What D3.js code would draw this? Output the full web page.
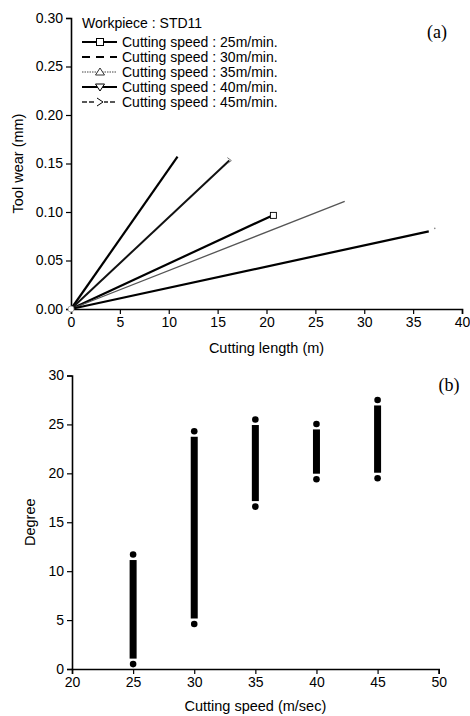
<!DOCTYPE html>
<html>
<head>
<meta charset="utf-8">
<script src="https://cdn.jsdelivr.net/npm/d3@7"></script>
<style>
  body { margin: 0; background: #fff; }
  svg { display: block; }
  text { font-family: "Liberation Sans", Arial, sans-serif; fill: #000; }
</style>
</head>
<body>
<div id="chart"></div>
<script>
// (a) tool wear vs cutting length, one straight run per cutting speed
const speedNames = ["Cutting speed : 25m/min.", "Cutting speed : 30m/min.", "Cutting speed : 35m/min.",
                    "Cutting speed : 40m/min.", "Cutting speed : 45m/min."]
const wearLength = [[0, 20.5], [0, 10.9], [0, 28.0], [0, 36.6], [0, 16.2]]
const wearValue = [[0, 0.096], [0, 0.157], [0, 0.111], [0, 0.080], [0, 0.153]]
const lengthTicks = [0, 5, 10, 15, 20, 25, 30, 35, 40]
const wearTicks = [0.00, 0.05, 0.10, 0.15, 0.20, 0.25, 0.30]

// (b) degree range measured at each cutting speed
const cutSpeeds = [25, 30, 35, 40, 45]
const degreeMin = [0.5, 4.6, 16.6, 19.4, 19.5]
const degreeMax = [11.7, 24.3, 25.5, 25.05, 27.5]
const speedTicks = [20, 25, 30, 35, 40, 45, 50]
const degreeTicks = [0, 5, 10, 15, 20, 25, 30]

let width = 470, height = 716

let svg = d3.select('#chart')
    .append('svg')
    .attr("width", width)
    .attr("height", height)

// little helper for an axis with outward major + minor ticks
function drawAxis(g, axisFn, scale, ticks, minor, fmt) {
    g.call(axisFn(scale).tickValues(minor).tickSize(3).tickFormat(""))
    g.call(axisFn(scale).tickValues(ticks).tickSize(5).tickPadding(3).tickFormat(fmt))
    g.selectAll(".domain").attr("stroke-width", 1.6)
    g.selectAll("line").attr("stroke-width", 1.2)
    g.selectAll("text").style("font-size", "14px").style("font-family", '"Liberation Sans", Arial, sans-serif')
}

// ---------- panel (a) ----------
let xA = d3.scaleLinear().domain([0, 40]).range([71, 462])
let yA = d3.scaleLinear().domain([0, 0.30]).range([309, 18])

let gA = svg.append("g")

drawAxis(gA.append("g").attr("transform", "translate(0," + yA(0) + ")"), d3.axisBottom, xA,
    lengthTicks, d3.range(2.5, 40, 5), d3.format("d"))
drawAxis(gA.append("g").attr("transform", "translate(" + xA(0) + ",0)"), d3.axisLeft, yA,
    wearTicks, d3.range(0.025, 0.30, 0.05), d3.format(".2f"))

const lineStyle = [
    { w: 2.2, c: "#000" },
    { w: 2.2, c: "#000" },
    { w: 1.3, c: "#555" },
    { w: 2.2, c: "#000" },
    { w: 2.0, c: "#111" }
]

let line = d3.line().x(d => xA(d[0])).y(d => yA(d[1]))

speedNames.forEach((name, i) => {
    let pts = wearLength[i].map((l, j) => [l, wearValue[i][j]])
    gA.append("path")
        .datum(pts)
        .attr("d", line)
        .attr("fill", "none")
        .attr("stroke", lineStyle[i].c)
        .attr("stroke-width", lineStyle[i].w)
})

// end markers that are visible on the plot
let last = i => [xA(wearLength[i][1]), yA(wearValue[i][1])]
let p0 = last(0)
gA.append("rect").attr("x", p0[0] - 1).attr("y", p0[1] - 3.5).attr("width", 6).attr("height", 6)
    .attr("fill", "#fff").attr("stroke", "#000").attr("stroke-width", 0.9)
let p4 = last(4)
gA.append("path").attr("d", `M${p4[0] - 2},${p4[1] - 3}L${p4[0] + 2},${p4[1]}L${p4[0] - 2},${p4[1] + 3}`)
    .attr("fill", "none").attr("stroke", "#777").attr("stroke-width", 1)
let p3 = last(3)
gA.append("circle").attr("cx", p3[0] + 6).attr("cy", p3[1] - 3).attr("r", 0.8).attr("fill", "#888")
// hollow marker cluster at origin
gA.append("circle").attr("cx", xA(0)).attr("cy", yA(0)).attr("r", 3)
    .attr("fill", "#fff").attr("stroke", "#999").attr("stroke-width", 0.8)

// legend
let legend = gA.append("g").attr("transform", "translate(82,0)")
legend.append("text").attr("x", 0).attr("y", 28).style("font-size", "14px").text("Workpiece : STD11")

const legendLine = [
    { w: 2, dash: null, c: "#000" },
    { w: 2, dash: "8,6", c: "#000" },
    { w: 1, dash: "1.5,1", c: "#444" },
    { w: 2, dash: null, c: "#000" },
    { w: 1.4, dash: "5,2", c: "#222" }
]
speedNames.forEach((name, i) => {
    let yy = 42 + 15 * i
    let row = legend.append("g")
    row.append("line").attr("x1", 0).attr("x2", 35).attr("y1", yy).attr("y2", yy)
        .attr("stroke", legendLine[i].c).attr("stroke-width", legendLine[i].w)
        .attr("stroke-dasharray", legendLine[i].dash)
    let mx = 18
    if (i === 0) {
        row.append("rect").attr("x", mx - 3.5).attr("y", yy - 3.5).attr("width", 7).attr("height", 7)
            .attr("fill", "#fff").attr("stroke", "#000")
    } else if (i === 2) {
        row.append("path").attr("d", `M${mx - 4.5},${yy + 3}L${mx},${yy - 4}L${mx + 4.5},${yy + 3}Z`)
            .attr("fill", "#fff").attr("stroke", "#333")
    } else if (i === 3) {
        row.append("path").attr("d", `M${mx - 4.5},${yy - 3}L${mx},${yy + 4}L${mx + 4.5},${yy - 3}Z`)
            .attr("fill", "#fff").attr("stroke", "#000")
    } else if (i === 4) {
        row.append("rect").attr("x", mx - 4).attr("y", yy - 4).attr("width", 8).attr("height", 8).attr("fill", "#fff")
        row.append("path").attr("d", `M${mx - 3},${yy - 4}L${mx + 3},${yy}L${mx - 3},${yy + 4}`)
            .attr("fill", "none").attr("stroke", "#000")
    }
    row.append("text").attr("x", 40).attr("y", yy + 5).style("font-size", "14px").text(name)
})

svg.append("text").attr("x", 437).attr("y", 38).attr("text-anchor", "middle")
    .style("font-family", '"Liberation Serif", "Times New Roman", serif').style("font-size", "18px").text("(a)")

svg.append("text").attr("x", xA(20)).attr("y", 353).attr("text-anchor", "middle")
    .style("font-size", "14.5px").text("Cutting length (m)")
svg.append("text").attr("transform", "translate(23," + yA(0.15) + ") rotate(-90)").attr("text-anchor", "middle")
    .style("font-size", "14.5px").text("Tool wear (mm)")

// ---------- panel (b) ----------
let xB = d3.scaleLinear().domain([20, 50]).range([72, 438.7])
let yB = d3.scaleLinear().domain([0, 30]).range([669, 375.5])

let gB = svg.append("g")
drawAxis(gB.append("g").attr("transform", "translate(0," + yB(0) + ")"), d3.axisBottom, xB,
    speedTicks, d3.range(22.5, 50, 5), d3.format("d"))
drawAxis(gB.append("g").attr("transform", "translate(" + xB(20) + ",0)"), d3.axisLeft, yB,
    degreeTicks, d3.range(2.5, 30, 5), d3.format("d"))

let cols = gB.selectAll(".col")
    .data(cutSpeeds)
    .enter().append("g")
    .attr("class", "col")

cols.append("rect")
    .attr("x", d => xB(d) - 3.5)
    .attr("width", 7)
    .attr("y", (d, i) => yB(degreeMax[i]) + 5.5)
    .attr("height", (d, i) => yB(degreeMin[i]) - yB(degreeMax[i]) - 11)
    .attr("fill", "#000")

cols.append("circle")
    .attr("cx", d => xB(d))
    .attr("cy", (d, i) => yB(degreeMax[i]))
    .attr("r", 3.3)
    .attr("fill", "#000")
cols.append("circle")
    .attr("cx", d => xB(d))
    .attr("cy", (d, i) => yB(degreeMin[i]))
    .attr("r", 3.3)
    .attr("fill", "#000")

svg.append("text").attr("x", 449).attr("y", 391).attr("text-anchor", "middle")
    .style("font-family", '"Liberation Serif", "Times New Roman", serif').style("font-size", "18px").text("(b)")

svg.append("text").attr("x", xB(35)).attr("y", 711).attr("text-anchor", "middle")
    .style("font-size", "14.5px").text("Cutting speed (m/sec)")
svg.append("text").attr("transform", "translate(35," + yB(15) + ") rotate(-90)").attr("text-anchor", "middle")
    .style("font-size", "14.5px").text("Degree")
</script>
</body>
</html>
